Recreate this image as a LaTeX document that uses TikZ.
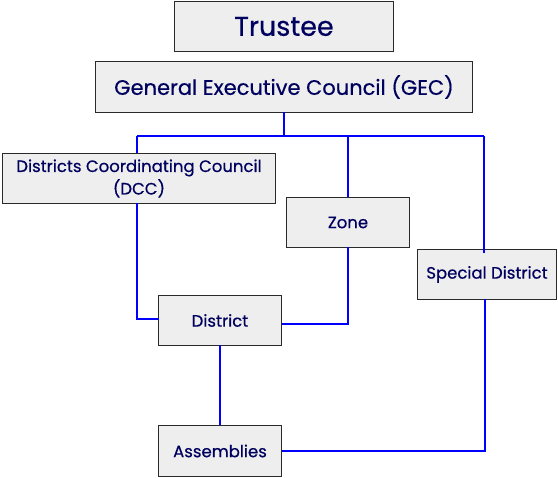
\documentclass[tikz,border=0pt]{standalone}
\usepackage{fontspec}
\setmainfont{Poppins}
\newfontfamily\unitfont{Poppins}[FakeBold=0.5]
\usetikzlibrary{positioning}

\definecolor{boxfill}{HTML}{EEEEEE}
\definecolor{boxline}{HTML}{2A2A2A}
\definecolor{navytext}{HTML}{00005E}
\definecolor{linkblue}{HTML}{0000FF}

\begin{document}
\begin{tikzpicture}
  [x=1pt, y=-1pt,
   unit/.style = {draw=boxline, fill=boxfill, line width=1.6pt,
                  text=navytext, inner sep=0pt, outer sep=0pt,
                  align=center, font=\unitfont\fontsize{16.5}{22.5}\selectfont},
   link/.style = {draw=linkblue, line width=1.5pt}]

  \useasboundingbox (0,0) rectangle (558,478);

  \node[unit, minimum width=219pt, minimum height=50pt,
        font=\unitfont\fontsize{27}{30}\selectfont]
                    (trustee)    at (284,26.5)          {Trustee};
  \node[unit, minimum width=377pt, minimum height=51pt,
        font=\unitfont\fontsize{21}{24}\selectfont]
                    (gec)        [below=10pt of trustee] {General Executive Council (GEC)};
  \node[unit, minimum width=273pt, minimum height=50pt]
                    (dcc)        at (139,178.5)          {Districts Coordinating Council\\(DCC)};
  \node[unit, minimum width=123pt, minimum height=50pt]
                    (zone)       at (348,222.5)          {Zone};
  \node[unit, minimum width=139pt, minimum height=50pt]
                    (special)    at (487,274.5)          {Special District};
  \node[unit, minimum width=123pt, minimum height=50pt]
                    (district)   at (220,320.5)          {District};
  \node[unit, minimum width=123pt, minimum height=51pt]
                    (assemblies) [below=80pt of district] {Assemblies};

  \coordinate (bus left)  at (137,136);
  \coordinate (bus right) at (484,136);

  % from the GEC down to the bus
  \path[link] (gec.south) -- (gec.south |- bus left);
  \path[link] (bus left) -- (bus right);
  \path[link] (bus left) -- (bus left |- dcc.north);
  \path[link] (zone.north |- bus left) -- (zone.north);
  \path[link] (bus right) -- ([yshift=-4pt]bus right |- special.north);

  % into the district and the assemblies
  \path[link] (bus left |- dcc.south) |- ([yshift=1.5pt]district.west);
  \path[link] (zone.south) |- ([yshift=-3.5pt]district.east);
  \path[link] (district.south) -- (assemblies.north -| district.south);
  \path[link] ([xshift=-2pt]special.south) |- (assemblies.east);
\end{tikzpicture}
\end{document}
